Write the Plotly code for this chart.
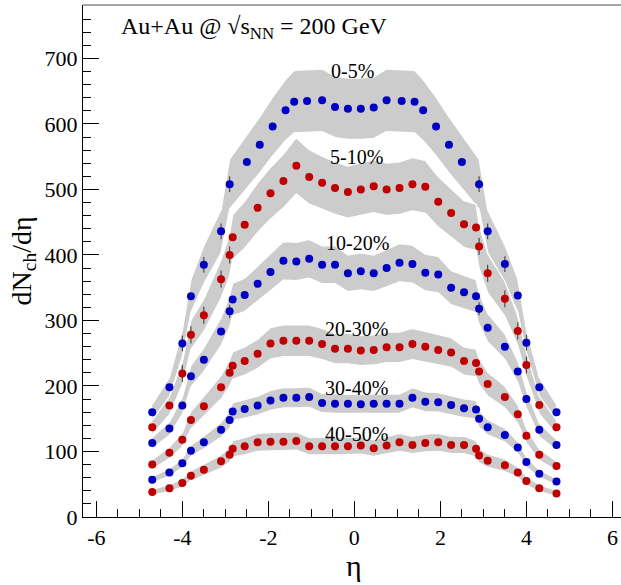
import plotly.graph_objects as go

# ---------------- data ----------------
ETA_0_5 = [-4.7, -4.3, -4.0, -3.8, -3.5, -3.1, -2.9, -2.5, -2.2, -1.9, -1.6, -1.4, -1.1, -0.75, -0.45, -0.15,
           0.15, 0.45, 0.75, 1.1, 1.4, 1.6, 1.9, 2.2, 2.5, 2.9, 3.1, 3.5, 3.8, 4.0, 4.3, 4.7]
V_0_5 = [160, 198, 265, 337, 385, 436, 508, 542, 568, 596, 621, 634, 635, 636, 626, 623,
         623, 625, 636, 635, 634, 621, 596, 568, 542, 508, 436, 386, 338, 266, 198, 160]
ERR_0_5 = [0, 0, 12, 0, 12, 12, 12, 0, 0, 0, 0, 0, 0, 0, 0, 0,
           0, 0, 0, 0, 0, 0, 0, 0, 0, 12, 12, 12, 0, 12, 0, 0]

ETA = [-4.7, -4.3, -4.0, -3.8, -3.5, -3.1, -2.9, -2.83, -2.55, -2.25, -1.95, -1.65, -1.35, -1.05, -0.75, -0.45, -0.15,
       0.15, 0.45, 0.75, 1.05, 1.35, 1.65, 1.95, 2.25, 2.55, 2.83, 2.9, 3.1, 3.5, 3.8, 4.0, 4.3, 4.7]
V_5_10 = [137, 170, 219, 278, 308, 363, 400, 427, 446, 472, 494, 513, 536, 519, 510, 502, 496,
          500, 505, 500, 502, 508, 504, 481, 464, 447, 442, 413, 372, 333, 284, 232, 171, 137]
ERR_5_10 = [0, 0, 13, 13, 13, 13, 13, 0, 0, 0, 0, 0, 0, 0, 0, 0, 0,
            0, 0, 0, 0, 0, 0, 0, 0, 0, 0, 13, 13, 13, 13, 13, 0, 0]
V_10_20 = [113, 135, 170, 215, 240, 283, 314, 332, 339, 356, 374, 391, 390, 394, 385, 385, 372,
           375, 372, 380, 388, 386, 373, 370, 350, 343, 337, 318, 289, 260, 222, 180, 133, 110]
ERR_10_20 = [0, 0, 0, 0, 0, 0, 10, 0, 0, 0, 0, 0, 0, 0, 0, 0, 0,
             0, 0, 0, 0, 0, 0, 0, 0, 0, 0, 10, 0, 0, 0, 0, 0, 0]
V_20_30 = [80, 98, 118, 148, 169, 198, 220, 231, 238, 249, 265, 269, 269, 269, 264, 257, 257,
           254, 255, 259, 259, 264, 260, 255, 251, 238, 235, 222, 203, 183, 157, 124, 95, 78]
V_30_40 = [57, 68, 82, 101, 114, 133, 148, 161, 165, 170, 178, 182, 182, 183, 174, 173, 173,
           172, 173, 173, 173, 182, 176, 175, 171, 166, 164, 150, 137, 125, 106, 84, 66, 54]
V_40_50 = [38, 44, 52, 63, 72, 85, 95, 104, 108, 114, 115, 115, 116, 108, 108, 108, 108,
           109, 105, 109, 114, 110, 113, 114, 110, 110, 104, 94, 86, 79, 68, 55, 44, 36]

# relative systematic uncertainty of each centrality class (grey bands)
SYS_0_5 = 0.075
SYS_5_10 = 0.08
SYS_10_20 = 0.075
SYS_20_30 = 0.09
SYS_30_40 = 0.085
SYS_40_50 = 0.12

CENTRALITY = ["0-5%", "5-10%", "10-20%", "20-30%", "30-40%", "40-50%"]

X_TICKS = [-6, -4, -2, 0, 2, 4, 6]
X_TICK_LABELS = ["-6", "-4", "-2", "0", "2", "4", "6"]
Y_TICKS = [0, 100, 200, 300, 400, 500, 600, 700]
Y_TICK_LABELS = ["0", "100", "200", "300", "400", "500", "600", "700"]

# ---------------- style ----------------
BLUE = "#0000c2"
RED = "#c00000"
BAND = "#cccccc"
SERIF = "Liberation Serif"

series = [
    (ETA_0_5, V_0_5, SYS_0_5, BLUE, ERR_0_5),
    (ETA, V_5_10, SYS_5_10, RED, ERR_5_10),
    (ETA, V_10_20, SYS_10_20, BLUE, ERR_10_20),
    (ETA, V_20_30, SYS_20_30, RED, None),
    (ETA, V_30_40, SYS_30_40, BLUE, None),
    (ETA, V_40_50, SYS_40_50, RED, None),
]

fig = go.Figure()

# bands first
for x, v, s, c, e in series:
    hi = [val * (1 + s) for val in v]
    lo = [val * (1 - s) for val in v]
    fig.add_trace(go.Scatter(
        x=list(x) + list(x)[::-1], y=hi + lo[::-1],
        fill="toself", fillcolor=BAND, mode="lines",
        line=dict(color="white", width=1.2), hoverinfo="skip", showlegend=False))

# points on top
for x, v, s, c, e in series:
    kw = {}
    if e is not None:
        kw["error_y"] = dict(type="data", array=e, visible=True, color="#333333",
                             thickness=1, width=0)
    fig.add_trace(go.Scatter(
        x=x, y=v, mode="markers",
        marker=dict(color=c, size=8, line=dict(width=0)),
        showlegend=False, **kw))

LABEL_X = [-0.05, 0.05, 0.08, 0.06, 0.06, 0.06]
LABEL_Y = [681, 549, 418, 287, 197, 126]
ann = []
for t, lx, ly in zip(CENTRALITY, LABEL_X, LABEL_Y):
    ann.append(dict(x=lx, y=ly, xref="x", yref="y", text=t, showarrow=False,
                    font=dict(family=SERIF, size=20, color="black"),
                    xanchor="center", yanchor="middle"))

ann.append(dict(x=-5.48, y=746, xref="x", yref="y",
                text="Au+Au @ \u221as<sub>NN</sub> = 200 GeV", showarrow=False,
                font=dict(family=SERIF, size=24, color="black"),
                xanchor="left", yanchor="middle"))
ann.append(dict(x=-0.1115, y=390, xref="paper", yref="y",
                text="dN<sub>ch</sub>/d\u03b7", textangle=-90, showarrow=False,
                font=dict(family=SERIF, size=28, color="black"),
                xanchor="center", yanchor="middle"))
ann.append(dict(x=0, y=-0.094, xref="x", yref="paper",
                text="\u03b7", showarrow=False,
                font=dict(family=SERIF, size=30, color="black"),
                xanchor="center", yanchor="middle"))

axis_common = dict(showline=True, linecolor="black", linewidth=1.2, ticks="inside",
                   ticklen=16, tickwidth=1, tickcolor="black", showgrid=False,
                   zeroline=False, tickfont=dict(family=SERIF, size=22, color="black"),
                   tickmode="array", automargin=False)

fig.update_layout(
    width=621, height=585,
    margin=dict(l=83, r=0, t=5, b=68),
    paper_bgcolor="white", plot_bgcolor="white",
    xaxis=dict(range=[-6.31, 6.2], tickvals=X_TICKS, ticktext=X_TICK_LABELS,
               minor=dict(ticks="inside", ticklen=8, tickcolor="black", dtick=0.5, tick0=0,
                          showgrid=False),
               **axis_common),
    yaxis=dict(range=[0, 781.5], tickvals=Y_TICKS, ticktext=Y_TICK_LABELS,
               minor=dict(ticks="inside", ticklen=8, tickcolor="black", dtick=20, tick0=0,
                          showgrid=False),
               **axis_common),
    annotations=ann,
    shapes=[dict(type="line", xref="paper", yref="paper", x0=0, x1=1, y0=1, y1=1,
                 line=dict(color="#888888", width=1.5))],
)

fig.write_html("out.html",
               config={"displayModeBar": False},
               post_script="document.body.style.margin='0px';document.body.style.overflow='hidden';")
